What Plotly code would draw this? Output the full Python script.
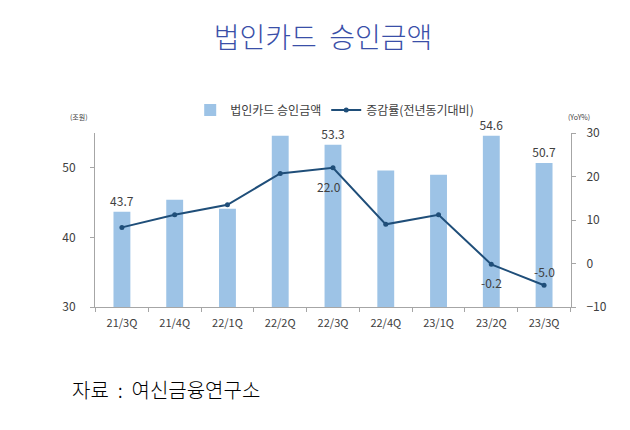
import plotly.graph_objects as go

categories = ["21/3Q", "21/4Q", "22/1Q", "22/2Q", "22/3Q", "22/4Q", "23/1Q", "23/2Q", "23/3Q"]
amount = [43.7, 45.4, 44.1, 54.6, 53.3, 49.6, 49.0, 54.6, 50.7]
amount_labels = ["43.7", "", "", "", "53.3", "", "", "54.6", "50.7"]
yoy = [8.3, 11.2, 13.5, 20.7, 22.0, 9.0, 11.2, -0.2, -5.0]
yoy_labels = ["", "", "", "", "22.0", "", "", "-0.2", "-5.0"]

# label offsets (pixels) for line data labels — styling only
yoy_label_shift = {4: (-4, -19), 7: (0, -18), 8: (0, 14)}

FONT = "Noto Sans CJK KR"
AX = "#A6A6A6"
TXT = "#404040"

fig = go.Figure()
fig.add_trace(go.Bar(
    x=categories, y=amount, name="법인카드 승인금액",
    marker=dict(color="#9DC3E6", line=dict(width=0)),
    width=0.32,
    text=amount_labels, textposition="outside", cliponaxis=False,
    constraintext="none",
    textfont=dict(size=12, color=TXT, family=FONT),
    yaxis="y",
))
fig.add_trace(go.Scatter(
    x=categories, y=yoy, name="증감률(전년동기대비)",
    mode="lines+markers",
    line=dict(color="#1F4E79", width=2),
    marker=dict(size=5, color="#1F4E79"),
    yaxis="y2",
))

annotations = []
for i, (c, v, lab) in enumerate(zip(categories, yoy, yoy_labels)):
    if lab:
        dx, dy = yoy_label_shift.get(i, (0, 14))
        annotations.append(dict(x=c, y=v, xref="x", yref="y2", text=lab, showarrow=False,
                                xshift=dx, yshift=dy,
                                font=dict(size=12, color=TXT, family=FONT)))

annotations += [
    dict(text="(조원)", xref="paper", yref="paper", x=-0.057, y=1.13, showarrow=False,
         font=dict(size=7, color=TXT)),
    dict(text="(YoY%)", xref="paper", yref="paper", x=1.044, y=1.13, showarrow=False,
         font=dict(size=7, color=TXT)),
    dict(text="자료  :  여신금융연구소", xref="paper", yref="paper", x=-0.053, y=-0.477,
         xanchor="left", yanchor="middle", showarrow=False,
         font=dict(size=20, color="#000000", weight=300)),
]

fig.update_layout(
    width=630, height=430,
    margin=dict(l=87, r=67, t=125, b=131),
    paper_bgcolor="white", plot_bgcolor="white",
    font=dict(family=FONT, size=11, color=TXT),
    title=dict(text="법인카드  승인금액", x=0.5, xanchor="center", y=1 - 30 / 430, yanchor="middle",
               font=dict(size=28, color="#3A4FA8", family=FONT, weight=300)),
    showlegend=True,
    legend=dict(orientation="h", x=0.2, xanchor="left", y=1.132, yanchor="middle",
                font=dict(size=12, color=TXT), bgcolor="rgba(0,0,0,0)",
                itemwidth=30, tracegroupgap=0),
    xaxis=dict(type="category", showline=True, linecolor=AX, linewidth=1,
               ticks="outside", tickson="boundaries", ticklen=4, tickcolor=AX,
               ticklabelstandoff=6,
               tickfont=dict(size=11, color=TXT), showgrid=False),
    yaxis=dict(range=[30, 55], tickvals=[30, 40, 50], showline=True, linecolor=AX,
               ticks="outside", ticklen=4, tickcolor=AX, showgrid=False, zeroline=False,
               ticklabelstandoff=12,
               tickfont=dict(size=12, color=TXT)),
    yaxis2=dict(range=[-10, 30], tickvals=[-10, 0, 10, 20, 30], overlaying="y", side="right",
                showline=True, linecolor=AX, ticks="outside", ticklen=4, tickcolor=AX,
                showgrid=False, zeroline=False, ticklabelstandoff=8,
                tickfont=dict(size=12, color=TXT)),
    annotations=annotations,
)

fig.write_html("out.html")
